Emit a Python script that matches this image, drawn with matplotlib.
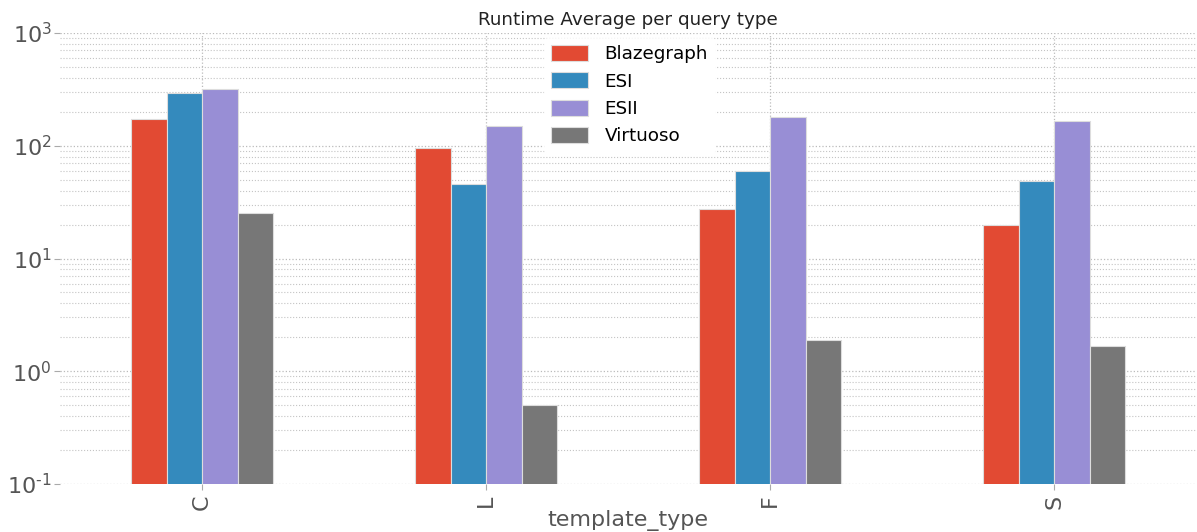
import numpy as np
import pandas as pd
import matplotlib
matplotlib.use("Agg")
import matplotlib.pyplot as plt
from matplotlib.ticker import FuncFormatter

plt.style.use("ggplot")

# average runtime per template type and engine
template_types = ["C", "L", "F", "S"]
blazegraph = [171, 95, 27.5, 19.8]
esi = [296, 45.8, 59.7, 48.7]
esii = [316, 150, 180, 167]
virtuoso = [25.3, 0.50, 1.89, 1.67]

df = pd.DataFrame(
    {"Blazegraph": blazegraph, "ESI": esi, "ESII": esii, "Virtuoso": virtuoso},
    index=pd.Index(template_types, name="template_type"),
)


def pow10_label(val, pos):
    e = int(round(np.log10(val)))
    exp = str(e).replace("-", r"\text{-}")
    return r"$\mathdefault{10^{%s}}$" % exp


fig = plt.figure(figsize=(11.97, 5.32), dpi=100)
ax = fig.add_axes([60 / 1197, 48 / 532, 1136 / 1197, 451 / 532])
ax.set_facecolor("white")

df.plot(kind="bar", ax=ax, logy=True, edgecolor="#dddddd", linewidth=0.8)

ax.set_ylim(0.1, 1000)
ax.set_xlim(-0.5, 3.5)
ax.yaxis.set_major_formatter(FuncFormatter(pow10_label))
for s in ax.spines.values():
    s.set_visible(False)

ax.grid(True, which="major", axis="both", color="#bbbbbb", linestyle=":", linewidth=0.9)
ax.grid(True, which="minor", axis="y", color="#c4c4c4", linestyle=":", linewidth=0.8)
ax.set_axisbelow(True)

ax.tick_params(axis="both", which="major", labelsize=16, labelcolor="#555555",
               color="#aaaaaa", length=4)
ax.tick_params(axis="y", which="major", pad=2)
ax.tick_params(axis="y", which="minor", length=0)
ax.set_xlabel("template_type", fontsize=16, color="#555555", labelpad=0)
ax.set_title("Runtime Average per query type", fontsize=13.2, color="#222222", pad=6)

leg = ax.legend(loc="upper left", bbox_to_anchor=(0.418, 1.01), fontsize=13.2,
                frameon=True, facecolor="white", edgecolor="white", framealpha=1,
                handlelength=2.0, handleheight=0.95, handletextpad=0.9,
                labelspacing=0.5)

fig.savefig("out.png", dpi=100)
